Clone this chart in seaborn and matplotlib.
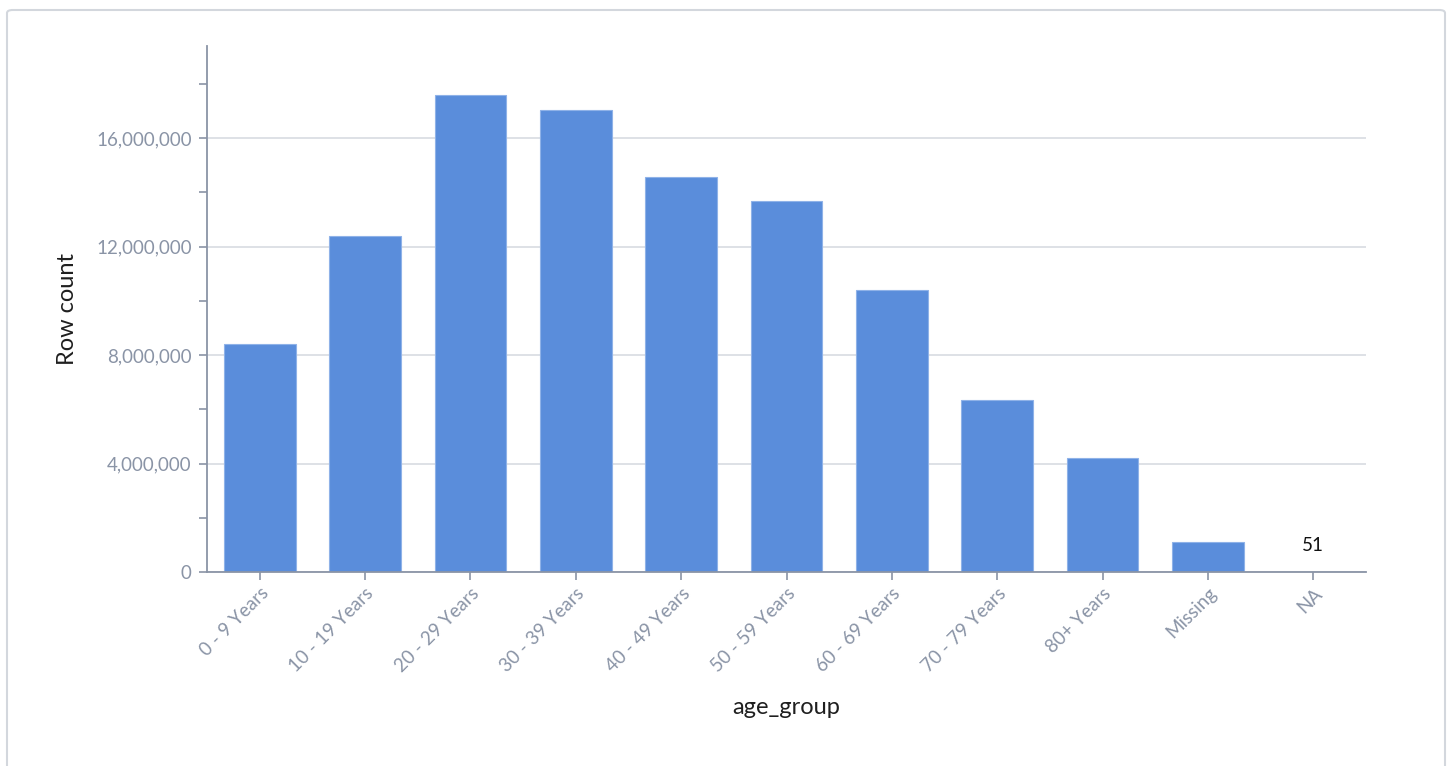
import numpy as np
import pandas as pd
import matplotlib
matplotlib.use("Agg")
import matplotlib.pyplot as plt
import seaborn as sns
from matplotlib.ticker import FuncFormatter, MultipleLocator
from matplotlib.patches import FancyBboxPatch

# Data
age_groups = ['0 - 9 Years', '10 - 19 Years', '20 - 29 Years', '30 - 39 Years',
              '40 - 49 Years', '50 - 59 Years', '60 - 69 Years', '70 - 79 Years',
              '80+ Years', 'Missing', 'NA']
row_counts = [8410000, 12390000, 17590000, 17030000, 14560000, 13680000,
              10400000, 6340000, 4200000, 1110000, 51]

df = pd.DataFrame({'age_group': age_groups, 'row_count': row_counts})

sns.set_theme(style='white')
plt.rcParams['font.family'] = ['Lato', 'DejaVu Sans']

tick_color = '#8a94a6'
bar_color = '#5a8ddb'

fig = plt.figure(figsize=(14.52, 7.66), dpi=100)
ax = fig.add_axes([207 / 1452, 1 - 572 / 766, (1366 - 207) / 1452, (572 - 46) / 766])

# frame around the card
fig.patches.append(FancyBboxPatch((7 / 1452, -0.05), 1438 / 1452, 1.05 - 10 / 766,
                                  boxstyle='round,pad=0,rounding_size=0.004',
                                  transform=fig.transFigure, facecolor='none',
                                  edgecolor='#d3d7dd', linewidth=1.5, zorder=0))

sns.barplot(data=df, x='age_group', y='row_count', color=bar_color,
            saturation=1, width=0.68, edgecolor='#8fb2e8', linewidth=0.8, ax=ax)

ax.set_xlim(-0.5, len(age_groups) - 0.5)
ax.set_ylim(0, 19400000)
ax.yaxis.set_major_locator(MultipleLocator(4000000))
ax.yaxis.set_minor_locator(MultipleLocator(2000000))
ax.yaxis.set_major_formatter(FuncFormatter(lambda v, p: f'{int(v):,}'))

ax.grid(True, axis='y', which='major', color='#d5d9df', linewidth=1.1)
ax.set_axisbelow(True)

for side in ['top', 'right']:
    ax.spines[side].set_visible(False)
for side in ['left', 'bottom']:
    ax.spines[side].set_color(tick_color)
    ax.spines[side].set_linewidth(1.3)

ax.tick_params(axis='y', which='both', left=True, length=6, width=1.2,
               color=tick_color, labelcolor=tick_color, labelsize=13.5, pad=5)
ax.tick_params(axis='x', bottom=True, length=6, width=1.2,
               color=tick_color, labelcolor=tick_color, labelsize=13.5, pad=3)
plt.setp(ax.get_xticklabels(), rotation=45, ha='right', rotation_mode='anchor')

ax.set_xlabel('age_group', fontsize=17, color='#1f1f1f', labelpad=16)
ax.set_ylabel('Row count', fontsize=17, color='#1f1f1f', labelpad=13)

# label for the tiny NA bar
na_idx = age_groups.index('NA')
ax.annotate(f'{row_counts[na_idx]:,}', xy=(na_idx, row_counts[na_idx]),
            xytext=(0, 13), textcoords='offset points', ha='center', va='bottom',
            fontsize=13.5, color='#111111')

fig.savefig('out.png', dpi=100)
